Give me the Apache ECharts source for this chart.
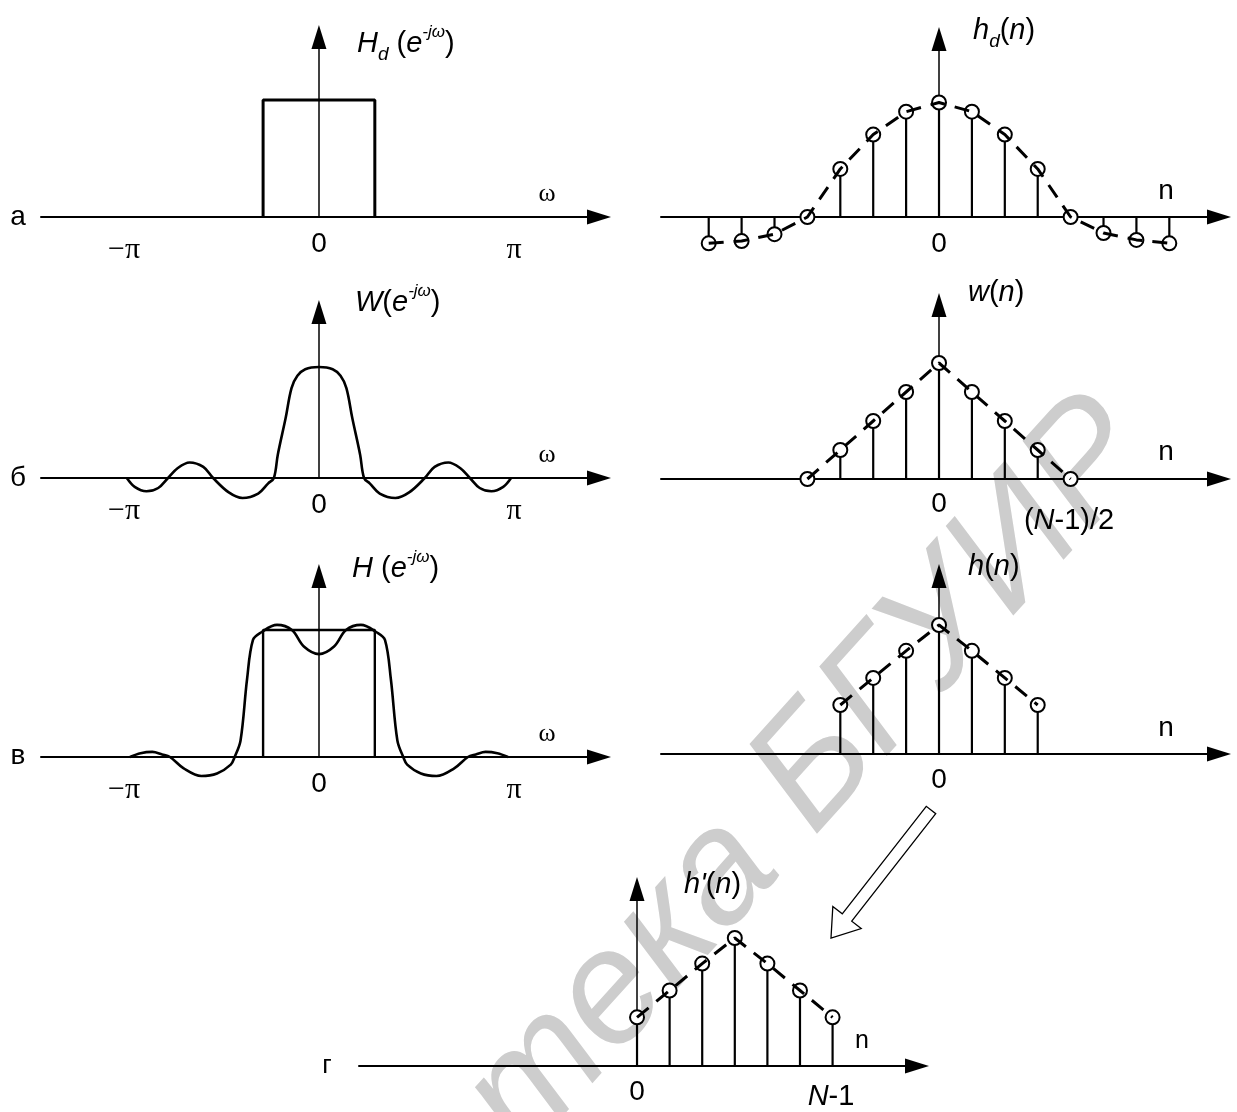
<!DOCTYPE html>
<html><head><meta charset="utf-8">
<script src="https://cdn.jsdelivr.net/npm/echarts@6/dist/echarts.min.js"></script>
<style>html,body{margin:0;padding:0;background:#fff}#c{width:1237px;height:1112px}</style>
</head><body><div id="c"></div>
<script>
// ---------------- data ----------------
// (а) ideal frequency response  (ω in units of π)
const omegaRect = [-0.285, -0.285, 0.285, 0.285];
const valRect   = [0, 1, 1, 0];
// (б) window spectrum W(e^-jω)
const omegaW = [-0.98,-0.94,-0.88,-0.82,-0.77,-0.72,-0.66,-0.59,-0.54,-0.46,-0.39,-0.31,-0.26,-0.23,-0.21,-0.17,-0.14,-0.11,-0.07,0,0.07,0.11,0.14,0.17,0.21,0.23,0.26,0.31,0.39,0.46,0.54,0.59,0.66,0.72,0.77,0.82,0.88,0.94,0.98];
const valW   = [0,-0.08,-0.12,-0.09,0,0.09,0.14,0.10,0,-0.13,-0.18,-0.14,-0.05,0,0.21,0.54,0.81,0.92,0.98,1.0,0.98,0.92,0.81,0.54,0.21,0,-0.05,-0.14,-0.18,-0.13,0,0.10,0.14,0.09,0,-0.09,-0.12,-0.08,0];
// (в) resulting response H(e^-jω)
const omegaH = [-0.964,-0.91,-0.85,-0.80,-0.76,-0.69,-0.60,-0.52,-0.45,-0.43,-0.40,-0.367,-0.337,-0.296,-0.214,-0.138,-0.077,0,0.077,0.138,0.214,0.296,0.337,0.367,0.40,0.43,0.45,0.52,0.60,0.69,0.76,0.80,0.85,0.91,0.964];
const valH   = [0,0.03,0.04,0.02,0,-0.09,-0.15,-0.13,-0.06,0,0.13,0.61,0.92,0.98,1.04,1.00,0.87,0.81,0.87,1.00,1.04,0.98,0.92,0.61,0.13,0,-0.06,-0.13,-0.15,-0.09,0,0.02,0.04,0.03,0];
// time-domain samples
const nHd   = [-7,-6,-5,-4,-3,-2,-1,0,1,2,3,4,5,6,7];
const valHd = [-0.23,-0.21,-0.15,0,0.42,0.72,0.92,1,0.92,0.72,0.42,0,-0.14,-0.20,-0.23];
const nWin   = [-4,-3,-2,-1,0,1,2,3,4];
const valWin = [0,0.25,0.5,0.75,1,0.75,0.5,0.25,0];
const nHn   = [-3,-2,-1,0,1,2,3];
const valHn = [0.38,0.59,0.80,1,0.80,0.59,0.38];
const nHp   = [0,1,2,3,4,5,6];
const valHp = [0.38,0.59,0.80,1,0.80,0.59,0.38];
// tick labels
const freqTicks = ['−π', '0', 'π'];
const panelLetters = ['а', 'б', 'в', 'г'];

// ---------------- layout ----------------
const SANS = '"Liberation Sans", Arial, sans-serif';
const SERIF = '"Liberation Serif", "Times New Roman", serif';
const panels = [
  {left:41,  top:37,  width:558, height:180, x:[-1.418,1.4286], ymax:1.538}, // 0 а left
  {left:41,  top:312, width:558, height:166, x:[-1.418,1.4286], ymax:1.495}, // 1 б left
  {left:41,  top:576, width:558, height:181, x:[-1.418,1.4286], ymax:1.425}, // 2 в left
  {left:661, top:39,  width:558, height:178, x:[-8.45,8.51],    ymax:1.555}, // 3 а right
  {left:661, top:305, width:558, height:174, x:[-8.45,8.51],    ymax:1.50},  // 4 б right
  {left:661, top:576, width:558, height:178, x:[-8.45,8.51],    ymax:1.38},  // 5 в right
  {left:359, top:889, width:558, height:177, x:[-8.53,8.59],    ymax:1.383}  // 6 г
];
const grid = panels.map(p => ({left:p.left, top:p.top, width:p.width, height:p.height, containLabel:false}));
const xAxis = panels.map((p,i) => ({
  type:'value', gridIndex:i, min:p.x[0], max:p.x[1],
  axisLine:{show:true, onZero:true, symbol:['none','triangle'], symbolSize:[15,24], lineStyle:{color:'#000', width:2}},
  axisTick:{show:false}, axisLabel:{show:false}, splitLine:{show:false}
}));
const yAxis = panels.map((p,i) => ({
  type:'value', gridIndex:i, min:0, max:p.ymax,
  axisLine:{show:true, onZero:true, symbol:['none','triangle'], symbolSize:[15,24], lineStyle:{color:'#000', width:1.5}},
  axisTick:{show:false}, axisLabel:{show:false}, splitLine:{show:false}
}));

const zip = (a,b) => a.map((v,i) => [v, b[i]]);
function curve(i, xs, ys, w, smooth){
  return {type:'line', xAxisIndex:i, yAxisIndex:i, data:zip(xs,ys), symbol:'none', smooth:smooth||false,
    clip:false, silent:true, animation:false, lineStyle:{color:'#000', width:w}, z:3};
}
function stems(i, ns, vs){
  return [
    {type:'custom', xAxisIndex:i, yAxisIndex:i, data:zip(ns,vs), clip:false, silent:true, animation:false, z:2,
     renderItem:function(params, api){
       const x = api.value(0), y = api.value(1);
       const p0 = api.coord([x,0]), p1 = api.coord([x,y]);
       return {type:'line', shape:{x1:p0[0],y1:p0[1],x2:p1[0],y2:p1[1]}, style:{stroke:'#000', lineWidth:2.2}};
     }},
    {type:'scatter', xAxisIndex:i, yAxisIndex:i, data:zip(ns,vs), clip:false, silent:true, animation:false, z:4,
     symbol:'circle', symbolSize:14, itemStyle:{color:'#fff', borderColor:'#000', borderWidth:2, opacity:1}},
    {type:'line', xAxisIndex:i, yAxisIndex:i, data:zip(ns,vs), symbol:'none', clip:false, silent:true, animation:false, z:5,
     lineStyle:{color:'#000', width:3, type:[15,10]}}
  ];
}

const series = [
  curve(0, omegaRect, valRect, 3),
  curve(1, omegaW, valW, 2.6, 0.35),
  curve(2, omegaH, valH, 2.6, 0.35),
  curve(2, omegaRect, valRect, 2.4),
  ...stems(3, nHd, valHd),
  ...stems(4, nWin, valWin),
  ...stems(5, nHn, valHn),
  ...stems(6, nHp, valHp)
];

// ---------------- texts ----------------
const graphic = [];
function txt(x, y, text, font, align){
  graphic.push({type:'text', x:x, y:y, z:100, silent:true,
    style:{text:text, font:font, fill:'#000', align:align||'center', verticalAlign:'middle'}});
}
const richStyles = {
  i:{fontSize:29, fontFamily:SANS, fontStyle:'italic', lineHeight:40, fill:'#000'},
  n:{fontSize:29, fontFamily:SANS, lineHeight:40, fill:'#000'},
  sub:{fontSize:19, fontFamily:SANS, fontStyle:'italic', lineHeight:20, verticalAlign:'bottom', fill:'#000'},
  sup:{fontSize:17, fontFamily:SANS, fontStyle:'italic', lineHeight:29, verticalAlign:'top', fill:'#000'}
};
function rich(x, y, text, align){
  graphic.push({type:'text', x:x, y:y, z:100, silent:true,
    style:{text:text, rich:richStyles, align:align||'left', verticalAlign:'middle', fill:'#000'}});
}
// panel letters
txt(18, 217, panelLetters[0], '28px ' + SANS);
txt(18, 478, panelLetters[1], '28px ' + SANS);
txt(18, 756, panelLetters[2], '28px ' + SANS);
txt(327, 1066, panelLetters[3], '26px ' + SANS);
// frequency tick labels
[[217],[478],[757]].forEach(function(r){
  const ay = r[0];
  txt(124, ay + 33, freqTicks[0], '30px ' + SERIF);
  txt(319, ay + 27, freqTicks[1], '28px ' + SANS);
  txt(514, ay + 33, freqTicks[2], '30px ' + SERIF);
  txt(547, ay - 23, 'ω', '26px ' + SERIF);
});
// time tick labels
txt(939, 244, '0', '28px ' + SANS);
txt(1166, 191, 'n', '28px ' + SANS);
txt(939, 504, '0', '28px ' + SANS);
txt(1166, 452, 'n', '28px ' + SANS);
rich(1069, 521, '{n|(}{i|N}{n|-1)/2}', 'center');
txt(939, 780, '0', '28px ' + SANS);
txt(1166, 728, 'n', '28px ' + SANS);
txt(637, 1092, '0', '28px ' + SANS);
txt(862, 1041, 'n', '25px ' + SANS);
rich(831, 1097, '{i|N}{n|-1}', 'center');
// titles
rich(357, 44, '{i|H}{sub|d}{n| (}{i|e}{sup|-jω}{n|)}');
rich(355, 303, '{i|W}{n|(}{i|e}{sup|-jω}{n|)}');
rich(352, 569, '{i|H}{n| (}{i|e}{sup|-jω}{n|)}');
rich(973, 31, '{i|h}{sub|d}{n|(}{i|n}{n|)}');
rich(968, 293, '{i|w}{n|(}{i|n}{n|)}');
rich(968, 567, '{i|h}{n|(}{i|n}{n|)}');
rich(684, 885, '{i|h\'}{n|(}{i|n}{n|)}');

// hollow arrow from (в) right to (г)
(function(){
  const tail = [931, 810], tip = [831, 938];
  const dx = tip[0]-tail[0], dy = tip[1]-tail[1], L = Math.hypot(dx,dy);
  const u = [dx/L, dy/L], v = [-u[1], u[0]];
  const sw = 6, hw = 18, hl = 26;
  const neck = [tip[0]-u[0]*hl, tip[1]-u[1]*hl];
  const P = (b, s) => [b[0]+v[0]*s, b[1]+v[1]*s];
  graphic.push({type:'polygon', z:90, silent:true,
    shape:{points:[P(tail,sw), P(neck,sw), P(neck,hw), tip, P(neck,-hw), P(neck,-sw), P(tail,-sw)]},
    style:{fill:'#fff', stroke:'#000', lineWidth:1.3}});
})();

// watermark (right-aligned at the end of "БГУИР")
graphic.push({type:'text', x:1125, y:425, z:-10, silent:true, rotation:48*Math.PI/180,
  style:{text:'Библиотека БГУИР', font:'italic 160px ' + SANS, fill:'#cdcdcd', align:'right', verticalAlign:'middle'}});

const chart = echarts.init(document.getElementById('c'), null, {renderer:'canvas'});
chart.setOption({
  animation:false,
  backgroundColor:'#fff',
  grid:grid, xAxis:xAxis, yAxis:yAxis, series:series, graphic:graphic
});
</script></body></html>
